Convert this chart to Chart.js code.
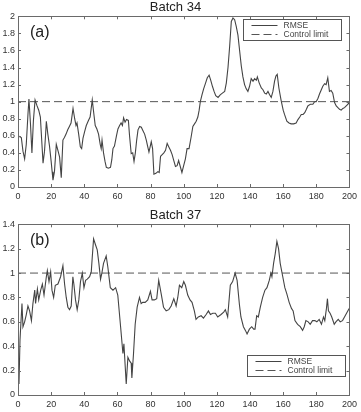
<!DOCTYPE html>
<html><head><meta charset="utf-8">
<script src="https://cdn.jsdelivr.net/npm/chart.js@4.4.1/dist/chart.umd.min.js"></script>
<style>
html,body{margin:0;padding:0;background:#fff;}
#w1{position:absolute;left:0;top:0;width:361px;height:205px;}
#w2{position:absolute;left:0;top:205px;width:361px;height:207px;}
</style></head><body>
<div id="w1"><canvas id="c1"></canvas></div>
<div id="w2"><canvas id="c2"></canvas></div>
<script>
// ---- data ----
const batch34X = [0,2,3,4,5,6,6.6,7.5,8.4,9.3,10.3,11.5,12.5,13.5,14,14.6,15.1,16,16.6,17.1,18,19,20,20.6,21.1,22,22.6,23.1,24.2,25.1,26.1,27.1,28,29,30,31,32,33.2,34.2,35,35.6,36.6,37.6,38.4,39.2,40.2,41.2,42.5,43.5,44.8,45.8,46.6,47.6,48.6,49.6,50.2,50.7,51.6,52.5,53.3,54.5,55.8,56.6,57.3,58.2,59.4,60.3,61.3,62.2,63,63.7,64.6,65.5,66.6,67.3,68.3,69.2,70,70.8,71.6,72.4,73.4,74.4,75.4,76.4,77.4,78.2,79,80.4,81.2,82,83.2,84.4,85.2,86,87,88,89,90,91,92,93,94,95,96,96.9,97.9,98.9,99.8,101,102,103.2,104.4,105.5,106.5,107.5,108.5,109.3,110,111,112,113.2,114.2,115.3,116.3,117.3,118.3,119.3,120.7,122,123.3,124.7,125.7,126.7,127.7,128.7,129.7,130.7,131.7,132.7,133.7,134.7,135.7,136.7,137.7,138.7,139.7,140.7,141.8,142.8,143.8,144.4,145.5,146.8,147.8,148.8,149.8,150.8,151.8,152.8,153.8,154.8,155.6,156.4,157.4,158.8,160,160.8,162.2,163.5,164.8,166.3,167.8,168.9,170,170.9,172,173,174,174.9,176.4,177.9,179,179.9,181,181.9,183,183.9,185,185.9,186.9,187.9,188.9,189.9,191,192,193,194,195,196,197,198.5,200];
const batch34Rmse = [0.60,0.58,0.42,0.33,0.50,0.85,1.03,0.75,0.40,0.78,1.02,0.95,0.90,0.82,0.65,0.45,0.28,0.42,0.60,0.77,0.62,0.48,0.30,0.18,0.08,0.18,0.35,0.50,0.42,0.35,0.11,0.55,0.58,0.62,0.67,0.71,0.75,0.92,0.80,0.72,0.75,0.62,0.47,0.45,0.57,0.65,0.72,0.78,0.82,1.02,0.85,0.72,0.68,0.62,0.50,0.45,0.55,0.40,0.30,0.23,0.22,0.23,0.32,0.45,0.48,0.60,0.68,0.72,0.75,0.72,0.81,0.76,0.79,0.78,0.60,0.39,0.40,0.30,0.40,0.55,0.67,0.71,0.70,0.66,0.62,0.55,0.48,0.41,0.53,0.45,0.15,0.16,0.18,0.17,0.36,0.38,0.40,0.43,0.51,0.47,0.43,0.38,0.31,0.24,0.25,0.31,0.24,0.17,0.24,0.33,0.45,0.45,0.58,0.71,0.74,0.77,0.82,0.90,1.00,1.08,1.15,1.22,1.28,1.31,1.25,1.18,1.12,1.07,1.05,1.08,1.10,1.12,1.22,1.40,1.65,1.94,1.98,1.96,1.88,1.78,1.60,1.42,1.29,1.20,1.15,1.12,1.18,1.27,1.24,1.27,1.25,1.29,1.22,1.16,1.14,1.10,1.09,1.12,1.08,1.05,1.12,1.24,1.30,1.32,1.16,1.01,0.90,0.85,0.77,0.75,0.74,0.74,0.75,0.79,0.82,0.85,0.85,0.87,0.91,0.95,0.97,0.97,1.00,1.00,1.04,1.09,1.14,1.18,1.21,1.20,1.28,1.12,1.13,1.10,0.99,0.95,0.93,0.91,0.90,0.92,0.93,0.96,0.99];

const batch37X = [0,0.6,1.2,2.4,3,4,5,6,7,8.1,9,10.1,10.6,11.7,12.5,13.7,14.7,15.7,17.1,17.7,18.7,19.7,20.5,21.5,22.5,24.1,25.7,27.1,28.1,29.1,30.1,31.1,32.1,33.1,33.7,34.7,35.7,36.7,37.7,38.8,39.8,40.8,41.8,43.2,44.2,44.8,45.6,46.8,47.8,48.8,49.8,50.6,51.6,53.2,54.2,55.7,57.3,58.9,60.2,61.9,63.3,63.9,64.7,65.3,66.3,67.3,68.3,68.7,69.7,70.7,71.9,73.3,74.3,75.3,76.7,78.3,79.9,80.9,82.3,83.7,84.9,86.4,87.8,89.4,91,92.4,94,95.4,96.4,97.4,98.8,100,101,102.4,103.8,105,106.4,107.4,108.8,110.5,111.9,113.5,114.9,116.1,117.5,119.1,120.5,122.5,124.1,125.1,126.5,128.1,129.5,131,132.2,133.6,134.5,136,137.2,138.2,139.6,141,142.2,143,144,145,146.2,147.6,149,150.2,151.6,152.6,153.2,154.2,155.2,156.2,157.2,158.2,159.6,161,162.2,163.6,165,166,167.1,168.7,170.3,171.7,172.7,173.7,175.1,176.3,177.7,179.1,180.3,181.7,183.1,184.3,185.1,186.1,186.7,187.3,188.3,189.3,190.8,191.8,193.2,194.4,195.8,197.4,199.8];
const batch37Rmse = [0.26,0.09,0.45,0.75,0.56,0.60,0.66,0.73,0.69,0.61,0.75,0.86,0.75,0.87,0.78,0.86,0.91,0.82,0.97,1.02,0.93,1.01,0.86,0.80,0.90,0.91,0.97,1.06,0.91,0.80,0.72,0.70,0.73,0.97,0.91,0.78,0.70,0.78,0.93,1.00,0.88,0.94,0.95,0.97,1.01,1.13,1.28,1.23,1.19,1.08,0.95,1.00,1.08,1.14,1.05,0.88,0.86,0.88,0.82,0.56,0.34,0.42,0.23,0.09,0.31,0.28,0.26,0.14,0.34,0.58,0.72,0.80,0.75,0.76,0.76,0.78,0.85,0.78,0.78,0.79,0.94,0.83,0.72,0.69,0.70,0.73,0.79,0.73,0.80,0.90,0.88,0.93,0.90,0.82,0.78,0.76,0.69,0.62,0.64,0.65,0.63,0.66,0.69,0.66,0.67,0.67,0.64,0.66,0.68,0.70,0.64,0.90,0.93,1.00,0.94,0.74,0.64,0.56,0.53,0.50,0.54,0.56,0.54,0.54,0.65,0.64,0.72,0.80,0.86,0.88,0.94,1.00,0.97,1.08,1.16,1.26,1.20,1.08,0.98,0.88,0.83,0.76,0.71,0.69,0.61,0.58,0.56,0.53,0.56,0.61,0.60,0.58,0.61,0.61,0.60,0.62,0.58,0.64,0.61,0.71,0.79,0.69,0.67,0.64,0.58,0.60,0.62,0.60,0.61,0.65,0.71];

const limitX = [0, 200];
const controlLimit = [1, 1];

const xTicks = [0,20,40,60,80,100,120,140,160,180,200];
const yTicks34 = [0,0.2,0.4,0.6,0.8,1,1.2,1.4,1.6,1.8,2];
const yTicks37 = [0,0.2,0.4,0.6,0.8,1,1.2,1.4];

const titles = ['Batch 34', 'Batch 37'];
const panelLabels = ['(a)', '(b)'];
const seriesLabels = ['RMSE', 'Control limit'];

// ---- drawing ----
const FONT = "'Liberation Sans', Arial, sans-serif";

const framePlugin = {
  id: 'frame',
  afterDraw(chart, args, opts) {
    const ctx = chart.ctx, a = chart.chartArea;
    const xs = chart.scales.x, ys = chart.scales.y;
    ctx.save();
    ctx.strokeStyle = '#6a6a6a';
    ctx.lineWidth = 1;
    ctx.strokeRect(Math.round(a.left) + 0.5, Math.round(a.top) + 0.5, Math.round(a.right - a.left), Math.round(a.bottom - a.top));
    const tl = 3;
    ctx.beginPath();
    xs.ticks.forEach(t => {
      const px = Math.round(xs.getPixelForValue(t.value)) + 0.5;
      ctx.moveTo(px, a.bottom); ctx.lineTo(px, a.bottom - tl);
      ctx.moveTo(px, a.top); ctx.lineTo(px, a.top + tl);
    });
    ys.ticks.forEach(t => {
      const py = Math.round(ys.getPixelForValue(t.value)) + 0.5;
      ctx.moveTo(a.left, py); ctx.lineTo(a.left + tl, py);
      ctx.moveTo(a.right, py); ctx.lineTo(a.right - tl, py);
    });
    ctx.stroke();

    // panel label
    ctx.fillStyle = '#222';
    ctx.font = '16px ' + FONT;
    ctx.textBaseline = 'middle';
    ctx.textAlign = 'left';
    ctx.fillText(opts.panel, a.left + opts.panelDx, a.top + opts.panelDy);

    // legend box
    const w = opts.legendW, h = opts.legendH;
    const lx = a.right - opts.legendRight - w;
    const ly = opts.legendAtBottom ? a.bottom - opts.legendOffset - h : a.top + opts.legendOffset;
    ctx.fillStyle = '#fff';
    ctx.fillRect(lx, ly, w, h);
    ctx.strokeStyle = '#555';
    ctx.strokeRect(Math.round(lx) + 0.5, Math.round(ly) + 0.5, w, h);
    ctx.font = '8.5px ' + FONT;
    ctx.textAlign = 'left';
    chart.data.datasets.forEach((ds, i) => {
      const ry = Math.round(ly + 5.5 + i * 9.5) + 0.5;
      ctx.strokeStyle = ds.borderColor;
      ctx.lineWidth = 1;
      ctx.setLineDash(ds.borderDash || []);
      ctx.beginPath();
      ctx.moveTo(lx + 8, ry); ctx.lineTo(lx + 34, ry);
      ctx.stroke();
      ctx.setLineDash([]);
      ctx.fillStyle = '#444';
      ctx.fillText(ds.label, lx + 40, ry);
    });
    ctx.restore();
  }
};

function makeChart(id, idx, xs, ys, yMax, yTicks, topPad, xHeight, legendAtBottom, legendRight, legendOffset) {
  return new Chart(document.getElementById(id), {
    type: 'line',
    data: {
      datasets: [
        { label: seriesLabels[0], data: xs.map((x, i) => ({ x: x, y: ys[i] })),
          borderColor: '#444', borderWidth: 1.1, pointRadius: 0, tension: 0, fill: false },
        { label: seriesLabels[1], data: limitX.map((x, i) => ({ x: x, y: controlLimit[i] })),
          borderColor: '#555', borderWidth: 1, borderDash: [8, 4], pointRadius: 0, tension: 0, fill: false }
      ]
    },
    options: {
      animation: false,
      responsive: true,
      maintainAspectRatio: false,
      devicePixelRatio: 1,
      layout: { padding: { top: topPad, right: 10, left: 0, bottom: 0 } },
      plugins: {
        legend: { display: false },
        tooltip: { enabled: false },
        title: { display: true, text: titles[idx], color: '#222',
          font: { family: FONT, size: 13, weight: 'normal', lineHeight: 1.1 }, padding: { top: 0, bottom: 2 } },
        frame: { panel: panelLabels[idx], panelDx: 12, panelDy: 16,
          legendW: 98, legendH: 21, legendAtBottom: legendAtBottom, legendRight: legendRight, legendOffset: legendOffset }
      },
      scales: {
        x: {
          type: 'linear', min: 0, max: 200,
          afterBuildTicks: s => { s.ticks = xTicks.map(v => ({ value: v })); },
          afterFit: s => { s.height = xHeight; },
          grid: { display: false, drawTicks: false },
          border: { display: false },
          ticks: { padding: 4, color: '#333', font: { family: FONT, size: 9 }, maxRotation: 0, autoSkip: false,
            callback: v => String(v) }
        },
        y: {
          type: 'linear', min: 0, max: yMax,
          afterBuildTicks: s => { s.ticks = yTicks.map(v => ({ value: v })); },
          afterFit: s => { s.width = 18; },
          grid: { display: false, drawTicks: false },
          border: { display: false },
          ticks: { padding: 3, color: '#333', font: { family: FONT, size: 9 }, autoSkip: false,
            callback: v => String(v) }
        }
      }
    },
    plugins: [framePlugin]
  });
}

makeChart('c1', 0, batch34X, batch34Rmse, 2, yTicks34, 0, 18, false, 8, 3);
makeChart('c2', 1, batch37X, batch37Rmse, 1.4, yTicks37, 3, 17, true, 4, 19);
</script>
</body></html>
